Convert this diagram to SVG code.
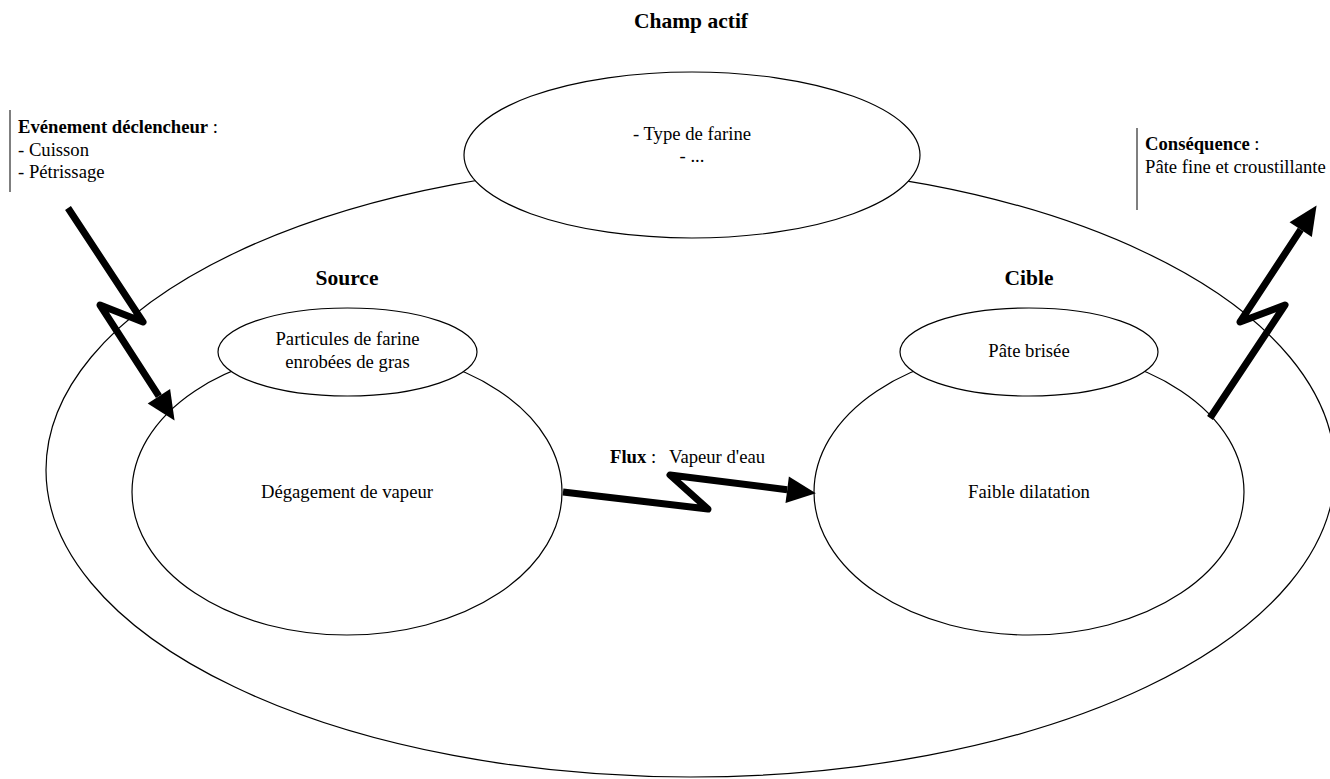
<svg xmlns="http://www.w3.org/2000/svg" width="1330" height="779" viewBox="0 0 1330 779">
<defs>
<style>
.el{fill:#fff;stroke:#000;stroke-width:1.2}
.t{font-family:"Liberation Serif","Times New Roman",serif;font-size:18.67px;fill:#000}
.b{font-weight:bold}
.h{font-family:"Liberation Serif","Times New Roman",serif;font-size:21.5px;font-weight:bold;fill:#000}
.ar{fill:none;stroke:#000;stroke-width:7;stroke-linejoin:round}
.bar{stroke:#555;stroke-width:1.5}
</style>
<marker id="ah" markerUnits="userSpaceOnUse" markerWidth="30" markerHeight="30" refX="0" refY="0" viewBox="0 -13 27 26" orient="auto" overflow="visible">
<path d="M0,-12 L26,0 L0,12 z" fill="#000"/>
</marker>
</defs>
<rect width="1330" height="779" fill="#fff"/>
<g id="champ-actif">
<ellipse class="el" cx="690.5" cy="470" rx="644.5" ry="307"/>
<text class="h" x="691" y="28" text-anchor="middle">Champ actif</text>
</g>
<g id="parametres">
<ellipse class="el" cx="692" cy="155" rx="228" ry="83"/>
<text class="t" x="692" y="140" text-anchor="middle">- Type de farine</text>
<text class="t" x="692" y="162" text-anchor="middle">- ...</text>
</g>
<g id="source">
<text class="h" x="347" y="285" text-anchor="middle">Source</text>
<ellipse class="el" cx="347" cy="492" rx="215" ry="143"/>
<text class="t" x="347" y="498" text-anchor="middle">Dégagement de vapeur</text>
<ellipse class="el" cx="347.5" cy="352" rx="129.5" ry="44"/>
<text class="t" x="347.5" y="345" text-anchor="middle">Particules de farine</text>
<text class="t" x="347.5" y="368" text-anchor="middle">enrobées de gras</text>
</g>
<g id="cible">
<text class="h" x="1029" y="285" text-anchor="middle">Cible</text>
<ellipse class="el" cx="1029" cy="492" rx="215" ry="143"/>
<text class="t" x="1029" y="498" text-anchor="middle">Faible dilatation</text>
<ellipse class="el" cx="1029" cy="352" rx="129" ry="44"/>
<text class="t" x="1029" y="357" text-anchor="middle">Pâte brisée</text>
</g>
<g id="evenement">
<line class="bar" x1="10" y1="110" x2="10" y2="192"/>
<text class="t" x="18" y="133"><tspan class="b">Evénement déclencheur</tspan> :</text>
<text class="t" x="18" y="156">- Cuisson</text>
<text class="t" x="18" y="178">- Pétrissage</text>
</g>
<g id="consequence">
<line class="bar" x1="1137" y1="128" x2="1137" y2="210"/>
<text class="t" x="1145" y="150"><tspan class="b">Conséquence</tspan> :</text>
<text class="t" x="1145" y="173">Pâte fine et croustillante</text>
</g>
<g id="flux-label">
<text class="t" x="610" y="463"><tspan class="b">Flux</tspan> :</text>
<text class="t" x="669" y="463">Vapeur d'eau</text>
</g>
<g id="connectors">
<path class="ar" d="M68,208 L143,322 L100,305 L158.9,396.2" marker-end="url(#ah)"/>
<path class="ar" d="M563,492 L708,509 L670,475 L787.2,489.7" marker-end="url(#ah)"/>
<path class="ar" d="M1210,418 L1285,305 L1240,322 L1300.7,229.7" marker-end="url(#ah)"/>
</g>
</svg>
